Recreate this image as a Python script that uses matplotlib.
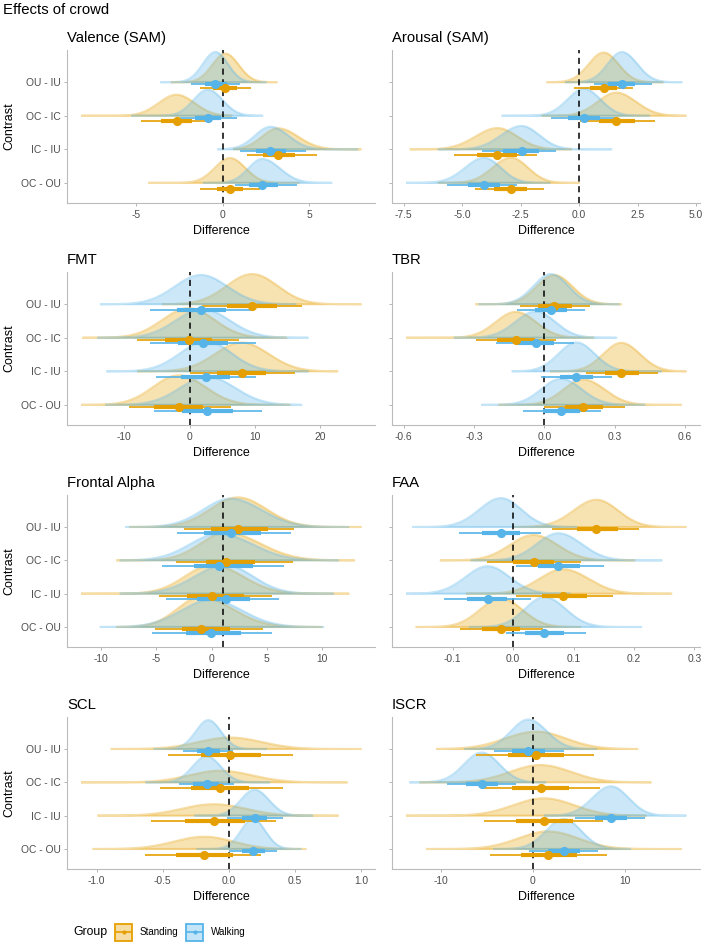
import numpy as np
import matplotlib.pyplot as plt
from matplotlib.patches import Rectangle

plt.rcParams['font.family'] = ['Liberation Sans', 'DejaVu Sans']

# contrasts, top to bottom as they appear on the y axis
contrasts = ['OU - IU', 'OC - IC', 'IC - IU', 'OC - OU']
groups = ['Standing', 'Walking']
colors = {'Standing': '#E69F00', 'Walking': '#56B4E9'}

# one row per contrast: median, 66% low, 66% high, 95% low, 95% high, slab min, slab max
valence_standing = [[0.15, -0.57, 0.82, -1.33, 1.66, -3.0, 3.14],
                    [-2.67, -3.56, -1.77, -4.7, -0.63, -8.2, 0.5],
                    [3.2, 2.32, 4.19, 1.39, 5.47, 0.6, 8.0],
                    [0.42, -0.34, 1.2, -1.3, 2.15, -4.3, 4.4]]
valence_walking = [[-0.42, -1.05, 0.25, -1.85, 0.99, -3.6, 2.5],
                   [-0.86, -1.62, -0.1, -2.48, 0.8, -5.3, 2.3],
                   [2.76, 1.9, 3.68, 1.0, 4.8, -0.3, 7.8],
                   [2.29, 1.52, 3.2, 0.7, 4.29, -1.14, 6.3]]

arousal_standing = [[1.05, 0.45, 1.63, -0.21, 2.3, -1.39, 3.58],
                    [1.59, 0.85, 2.4, 0.03, 3.25, -1.6, 4.57],
                    [-3.49, -4.35, -2.67, -5.33, -1.82, -7.24, -0.33],
                    [-2.91, -3.64, -2.24, -4.45, -1.49, -6.04, 0.0]]
arousal_walking = [[1.83, 1.24, 2.4, 0.64, 3.11, -0.6, 4.39],
                   [0.21, -0.47, 0.91, -1.18, 1.59, -3.31, 3.0],
                   [-2.46, -3.24, -1.72, -4.16, -0.97, -6.04, 1.38],
                   [-4.06, -4.77, -3.38, -5.65, -2.67, -7.4, -1.25]]

fmt_standing = [[9.57, 5.67, 13.37, 1.9, 17.2, -4.2, 26.2],
                [-0.15, -3.8, 3.5, -8.0, 7.6, -16.4, 14.8],
                [7.95, 4.15, 11.75, 0.0, 16.05, -8.0, 22.6],
                [-1.67, -5.4, 2.1, -9.3, 6.3, -16.6, 15.3]]
fmt_walking = [[1.72, -2.0, 5.5, -6.1, 9.7, -13.7, 16.2],
               [2.0, -1.8, 5.8, -6.0, 10.1, -14.1, 18.1],
               [2.53, -1.27, 6.18, -5.2, 10.1, -12.7, 18.1],
               [2.73, -1.2, 6.7, -5.4, 11.0, -12.9, 17.1]]

tbr_standing = [[0.042, -0.028, 0.116, -0.106, 0.194, -0.294, 0.328],
                [-0.122, -0.2, -0.04, -0.29, 0.048, -0.59, 0.21],
                [0.328, 0.258, 0.403, 0.177, 0.484, 0.024, 0.604],
                [0.166, 0.088, 0.25, 0.0, 0.345, -0.195, 0.583]]
tbr_walking = [[0.028, -0.04, 0.098, -0.117, 0.173, -0.28, 0.318],
               [-0.037, -0.117, 0.041, -0.207, 0.126, -0.386, 0.307],
               [0.137, 0.067, 0.208, -0.014, 0.289, -0.139, 0.498],
               [0.071, -0.004, 0.151, -0.093, 0.243, -0.269, 0.427]]

alpha_standing = [[2.37, -0.03, 5.07, -2.49, 7.41, -7.44, 13.5],
                  [1.32, -0.54, 3.96, -3.24, 7.35, -8.6, 12.9],
                  [0.06, -2.25, 2.9, -4.74, 5.46, -11.8, 12.4],
                  [-0.99, -2.7, 1.65, -5.13, 4.65, -8.6, 9.95]]
alpha_walking = [[1.71, -0.69, 4.47, -3.15, 7.17, -7.8, 12.35],
                 [0.66, -1.59, 3.72, -4.44, 6.57, -8.3, 11.45],
                 [1.26, -1.29, 3.45, -4.14, 6.12, -8.3, 11.0],
                 [-0.03, -2.28, 2.67, -5.34, 5.46, -10.1, 10.1]]

faa_standing = [[0.138, 0.105, 0.173, 0.064, 0.208, 0.001, 0.286],
                [0.034, 0.0, 0.068, -0.043, 0.112, -0.121, 0.201],
                [0.083, 0.048, 0.122, 0.005, 0.166, -0.078, 0.262],
                [-0.020, -0.052, 0.012, -0.088, 0.049, -0.161, 0.111]]
faa_walking = [[-0.020, -0.052, 0.012, -0.09, 0.046, -0.167, 0.105],
               [0.075, 0.041, 0.111, 0.005, 0.15, -0.07, 0.246],
               [-0.042, -0.076, -0.01, -0.114, 0.029, -0.177, 0.094],
               [0.052, 0.02, 0.084, -0.011, 0.12, -0.073, 0.212]]

scl_standing = [[0.008, -0.21, 0.24, -0.46, 0.483, -0.893, 1.0],
                [-0.068, -0.285, 0.153, -0.523, 0.408, -1.118, 0.895],
                [-0.113, -0.335, 0.12, -0.585, 0.358, -0.993, 0.828],
                [-0.185, -0.4, 0.033, -0.635, 0.245, -1.03, 0.583]]
scl_walking = [[-0.155, -0.243, -0.068, -0.343, 0.033, -0.568, 0.283],
               [-0.168, -0.268, -0.073, -0.375, 0.04, -0.63, 0.308],
               [0.195, 0.103, 0.29, -0.01, 0.408, -0.26, 0.633],
               [0.183, 0.1, 0.275, 0.003, 0.365, -0.243, 0.545]]

iscr_standing = [[0.36, -2.7, 3.42, -6.2, 6.67, -10.5, 11.35],
                 [0.83, -2.23, 3.9, -5.66, 7.3, -12.3, 12.8],
                 [1.19, -1.87, 4.32, -5.3, 7.6, -13.77, 12.25],
                 [1.66, -1.33, 4.8, -4.7, 8.0, -11.6, 16.07]]
iscr_walking = [[-0.5, -2.23, 1.26, -4.2, 3.42, -7.46, 6.88],
                [-5.55, -7.28, -3.75, -9.33, -1.8, -13.4, 1.37],
                [8.47, 6.7, 10.2, 4.54, 12.18, 1.2, 16.6],
                [3.35, 1.62, 5.15, -0.43, 7.06, -4.3, 10.56]]

titles = ['Valence (SAM)', 'Arousal (SAM)', 'FMT', 'TBR',
          'Frontal Alpha', 'FAA', 'SCL', 'ISCR']
panel_data = [(valence_standing, valence_walking), (arousal_standing, arousal_walking),
              (fmt_standing, fmt_walking), (tbr_standing, tbr_walking),
              (alpha_standing, alpha_walking), (faa_standing, faa_walking),
              (scl_standing, scl_walking), (iscr_standing, iscr_walking)]
ref_lines = [0, 0, 0, 0, 1, 0, 0, 0]
xticks = [[-5, 0, 5], [-7.5, -5.0, -2.5, 0.0, 2.5, 5.0], [-10, 0, 10, 20],
          [-0.6, -0.3, 0.0, 0.3, 0.6], [-10, -5, 0, 5, 10], [-0.1, 0.0, 0.1, 0.2, 0.3],
          [-1.0, -0.5, 0.0, 0.5, 1.0], [-10, 0, 10]]
xticklabels = [['-5', '0', '5'], ['-7.5', '-5.0', '-2.5', '0.0', '2.5', '5.0'],
               ['-10', '0', '10', '20'], ['-0.6', '-0.3', '0.0', '0.3', '0.6'],
               ['-10', '-5', '0', '5', '10'], ['-0.1', '0.0', '0.1', '0.2', '0.3'],
               ['-1.0', '-0.5', '0.0', '0.5', '1.0'], ['-10', '0', '10']]
# which group's interval sits on the upper dodge slot
upper_group = ['Walking', 'Walking', 'Standing', 'Standing',
               'Standing', 'Standing', 'Walking', 'Walking']

W, H = 707, 947
fig = plt.figure(figsize=(W / 100, H / 100), dpi=100)


def rect(x0, y0, x1, y1):
    return [x0 / W, 1 - y1 / H, (x1 - x0) / W, (y1 - y0) / H]


col_x = [(67, 375), (392, 700)]
row_y = [(50, 203), (272, 425), (495, 647), (717, 869)]


def slab_density(row, xs):
    med, lo66, hi66, lo95, hi95, smin, smax = row
    sl = (med - lo95) / 1.96
    sr = (hi95 - med) / 1.96
    s = np.where(xs < med, sl, sr)
    return np.exp(-0.5 * ((xs - med) / s) ** 2) / (sl + sr)


ypos = {c: 4 - i for i, c in enumerate(contrasts)}

for k in range(8):
    r, c = divmod(k, 2)
    ax = fig.add_axes(rect(col_x[c][0], row_y[r][0], col_x[c][1], row_y[r][1]))
    data = dict(zip(groups, panel_data[k]))

    # density curves, scaled so the tallest in the panel is 0.9
    curves = []
    for g in groups:
        for i, row in enumerate(data[g]):
            xs = np.linspace(row[5], row[6], 300)
            curves.append((g, contrasts[i], xs, slab_density(row, xs)))
    peak = max(d.max() for _, _, _, d in curves)
    for g, cname, xs, d in curves:
        y0 = ypos[cname]
        h = y0 + 0.9 * d / peak
        ax.fill_between(xs, y0, h, color=colors[g], alpha=0.3, lw=0, zorder=2)
        ax.plot(np.r_[xs, xs[::-1]], np.r_[h, np.full_like(xs, y0)],
                color=colors[g], alpha=0.35, lw=1.5, zorder=2,
                solid_capstyle='butt')

    ax.axvline(ref_lines[k], color='black', ls=(0, (4, 3)), lw=1.1, zorder=3)

    # point + interval
    for g in groups:
        off = -0.06 if g == upper_group[k] else -0.17
        for i, row in enumerate(data[g]):
            med, lo66, hi66, lo95, hi95 = row[:5]
            y = ypos[contrasts[i]] + off
            ax.plot([lo95, hi95], [y, y], color=colors[g], lw=1.2, zorder=4,
                    solid_capstyle='butt')
            ax.plot([lo66, hi66], [y, y], color=colors[g], lw=3.0, zorder=4,
                    solid_capstyle='butt')
            ax.plot(med, y, 'o', color=colors[g], ms=6.6, mew=0, zorder=5)

    lo = min(min(rw[5] for rw in data[g]) for g in groups)
    hi = max(max(rw[6] for rw in data[g]) for g in groups)
    pad = 0.05 * (hi - lo)
    ax.set_xlim(lo - pad, hi + pad)
    ax.set_ylim(0.4, 4.96)

    ax.set_xticks(xticks[k])
    ax.set_xticklabels(xticklabels[k])
    ax.set_yticks([ypos[cn] for cn in contrasts])
    if c == 0:
        ax.set_yticklabels(contrasts)
        ax.set_ylabel('Contrast', fontsize=9, color='black', labelpad=4)
    else:
        ax.set_yticklabels([])
    ax.set_xlabel('Difference', fontsize=9, color='black', labelpad=4)
    ax.tick_params(length=2.2, width=0.6, color='#AAAAAA', labelsize=7.4,
                   labelcolor='#4D4D4D', pad=2.5)
    for side in ['top', 'right']:
        ax.spines[side].set_visible(False)
    for side in ['left', 'bottom']:
        ax.spines[side].set_color('#BBBBBB')
        ax.spines[side].set_linewidth(0.8)
    ax.set_title(titles[k], loc='left', fontsize=10.7, pad=6)

fig.text(3 / W, 1 - 14 / H, 'Effects of crowd', fontsize=10.7, va='baseline')

# legend
lax = fig.add_axes([0, 0, 1, 1 - 900 / H], facecolor='none')
lax.set_xlim(0, W)
lax.set_ylim(H, 900)
lax.axis('off')
lax.text(73, 932, 'Group', fontsize=8.8, va='center')
for g, x0, tx in [('Standing', 115, 140), ('Walking', 186, 211)]:
    lax.add_patch(Rectangle((x0, 923.5), 17, 17, facecolor=colors[g], alpha=0.35,
                            edgecolor='none'))
    lax.add_patch(Rectangle((x0, 923.5), 17, 17, facecolor='none',
                            edgecolor=colors[g], lw=1.3))
    lax.plot([x0 + 1, x0 + 16], [932, 932], color=colors[g], lw=1.2)
    lax.plot(x0 + 8.5, 932, 'o', color=colors[g], ms=3, mew=0)
    lax.text(tx, 932, g, fontsize=7.1, va='center')

fig.savefig('out.png', dpi=100)
